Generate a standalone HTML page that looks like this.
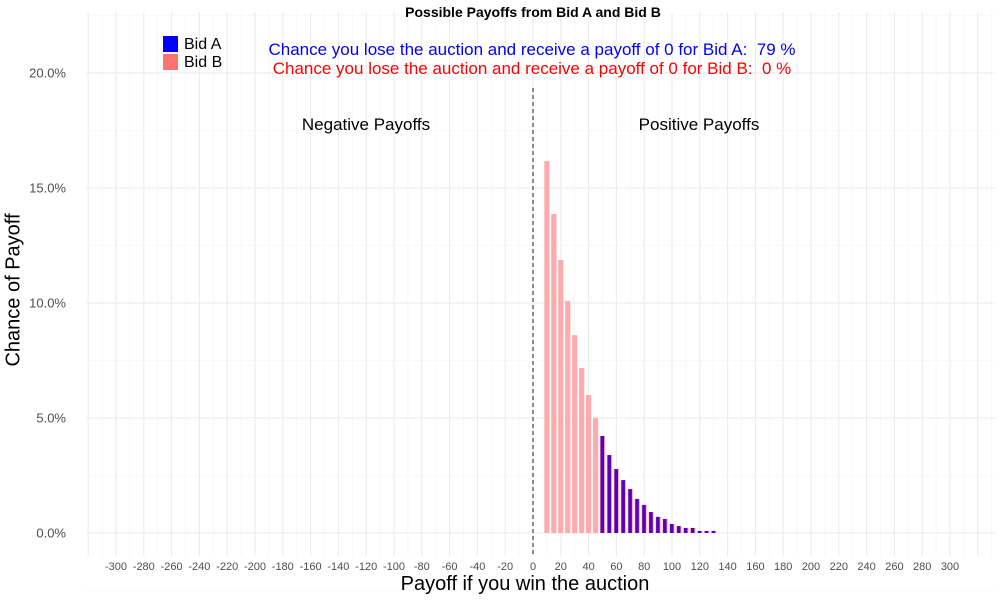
<!DOCTYPE html>
<html><head><meta charset="utf-8"><style>
body{margin:0;background:#fff;font-family:"Liberation Sans",sans-serif}
</style></head><body>
<svg id="c" width="1000" height="600" xmlns="http://www.w3.org/2000/svg" font-family="Liberation Sans, sans-serif"></svg>
<script>
const payoffs=[10,15,20,25,30,35,40,45,50,55,60,65,70,75,80,85,90,95,100,105,110,115,120,125,130];
const bidB=[16.17,13.87,11.87,10.09,8.6,7.17,6.0,5.01,4.22,3.39,2.78,2.30,1.91,1.48,1.22,0.91,0.70,0.61,0.39,0.30,0.22,0.22,0.09,0.09,0.09];
const bidAPayoffs=[50,55,60,65,70,75,80,85,90,95,100,105,110,115,120,125,130];
const bidA=[4.22,3.39,2.78,2.30,1.91,1.48,1.22,0.91,0.70,0.61,0.39,0.30,0.22,0.22,0.09,0.09,0.09];
const xTicks=[];for(let v=-300;v<=300;v+=20)xTicks.push(v);
const yTicks=[0,5,10,15,20];
const svg=document.getElementById('c');const NS='http://www.w3.org/2000/svg';
const X=v=>533+v*(417/300);const Y=v=>533-v*23;
function el(t,a,txt){const e=document.createElementNS(NS,t);for(const k in a)e.setAttribute(k,a[k]);if(txt!==undefined)e.textContent=txt;svg.appendChild(e);return e;}
// grid
for(let v=-320;v<=330;v+=10){if(X(v)<86||X(v)>996)continue;const g=el('line',{x1:X(v),x2:X(v),y1:12,y2:556,stroke:v%20===0?'#ebebeb':'#f3f3f3','stroke-width':v%20===0?1.1:0.6});
}
for(let v=-2.5;v<=22.5;v+=2.5){const g=el('line',{x1:86,x2:996,y1:Y(v),y2:Y(v),stroke:v%5===0?'#ebebeb':'#f3f3f3','stroke-width':v%5===0?1.1:0.6});
}
xTicks.forEach(v=>{const t=el('text',{x:X(v),y:570,'font-size':11,fill:'#4d4d4d','text-anchor':'middle'},String(v));
});
yTicks.forEach(v=>{const t=el('text',{x:66,y:Y(v)+4.5,'font-size':13,fill:'#4d4d4d','text-anchor':'end'},v.toFixed(1)+'%');
});
payoffs.forEach((p,i)=>{const r=el('rect',{x:X(p)-2.6,width:5.2,y:Y(bidB[i]),height:Y(0)-Y(bidB[i]),fill:'#ffaaad'});
});
bidAPayoffs.forEach((p,i)=>{const r=el('rect',{x:X(p)-2,width:3.6,y:Y(bidA[i]),height:Y(0)-Y(bidA[i]),fill:'#5a00b8'});
});
const d=el('line',{x1:X(0),x2:X(0),y1:88,y2:556,stroke:'#666','stroke-width':1.5,'stroke-dasharray':'4 3'});

</script>
<div style="position:absolute;left:0;top:0;width:1000px;height:600px;pointer-events:none">
<div style="position:absolute;top:4px;left:0;width:1066px;text-align:center;font-weight:bold;font-size:14px">Possible Payoffs from Bid A and Bid B</div>
<div style="position:absolute;top:40px;left:532px;transform:translateX(-50%);white-space:nowrap;color:#0000ff;font-size:17px">Chance you lose the auction and receive a payoff of 0 for Bid A:&nbsp; 79 %</div>
<div style="position:absolute;top:59px;left:532px;transform:translateX(-50%);white-space:nowrap;color:#ff0000;font-size:17px">Chance you lose the auction and receive a payoff of 0 for Bid B:&nbsp; 0 %</div>
<div style="position:absolute;top:115px;left:366px;transform:translateX(-50%);font-size:17px;white-space:nowrap">Negative Payoffs</div>
<div style="position:absolute;top:115px;left:699px;transform:translateX(-50%);font-size:17px;white-space:nowrap">Positive Payoffs</div>
<div style="position:absolute;top:36px;left:163px;font-size:16px;line-height:18px">
<div><span style="display:inline-block;width:15px;height:16px;background:#0000ff;vertical-align:-3px;margin-right:6px"></span>Bid A</div>
<div><span style="display:inline-block;width:15px;height:16px;background:#ff7272;vertical-align:-3px;margin-right:6px"></span>Bid B</div>
</div>
<div style="position:absolute;top:573px;left:525px;transform:translateX(-50%);font-size:20px;white-space:nowrap">Payoff if you win the auction</div>
<div style="position:absolute;top:290px;left:14px;transform:translate(-50%,-50%) rotate(-90deg);font-size:20px;white-space:nowrap">Chance of Payoff</div>
</div>
</body></html>
